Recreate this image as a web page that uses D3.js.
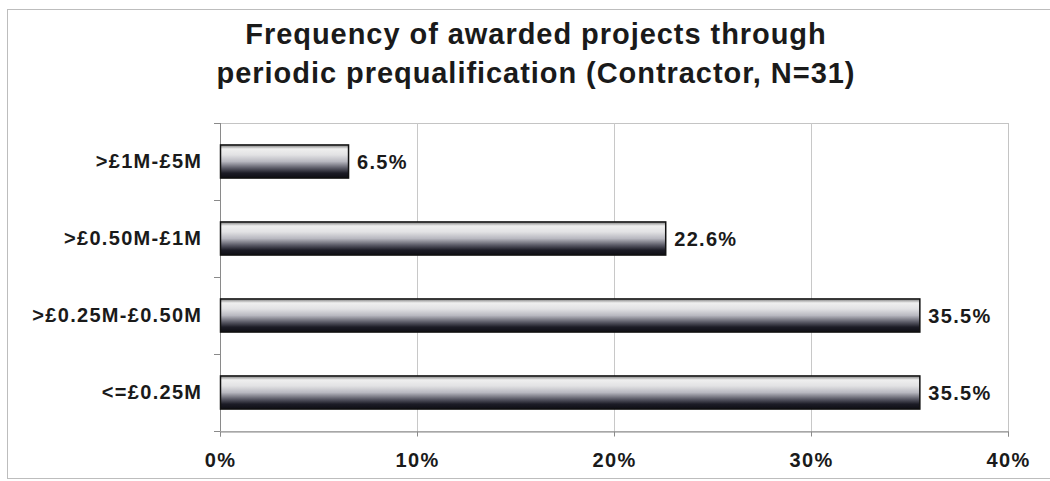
<!DOCTYPE html>
<html>
<head>
<meta charset="utf-8">
<script src="https://cdn.jsdelivr.net/npm/d3@7"></script>
<style>
  body { margin: 0; background: #fff; }
  svg text { font-family: "Liberation Sans", Arial, sans-serif; font-weight: bold; fill: #1a1a1a; }
</style>
</head>
<body>
<svg id="chart" width="1050" height="481"></svg>
<script>
// Contract value bands, top to bottom
const categories = [">£1M-£5M", ">£0.50M-£1M", ">£0.25M-£0.50M", "<=£0.25M"];
// Share of awarded projects (%)
const values = [6.5, 22.6, 35.5, 35.5];
const xTicks = [0, 10, 20, 30, 40];
const titleLines = ["Frequency of awarded projects through", "periodic prequalification (Contractor, N=31)"];

const svg = d3.select("#chart");
const W = 1050;
const plot = { left: 220, right: 1008, top: 123, bottom: 431 };
const labelSize = 20, labelSpacing = 1.3;

// outer chart frame
svg.append("rect")
  .attr("x", 7.5).attr("y", 9.5).attr("width", W).attr("height", 469)
  .attr("fill", "#fff").attr("stroke", "#bdbdbd").attr("stroke-width", 1);

// title
svg.append("g").selectAll("text").data(titleLines).join("text")
  .attr("x", 536).attr("y", (d, i) => 44 + i * 39)
  .attr("text-anchor", "middle")
  .attr("font-size", 29)
  .attr("letter-spacing", 0.95)
  .text(d => d);

const x = d3.scaleLinear().domain([0, 40]).range([plot.left, plot.right]);
const y = d3.scaleBand().domain(categories).range([plot.top, plot.bottom]).paddingInner(0.57).paddingOuter(0.285);
const yEdges = d3.scaleBand().domain(categories).range([plot.top, plot.bottom]);

// cylinder-like shading for bars
const defs = svg.append("defs");
const grad = defs.append("linearGradient").attr("id", "barShade")
  .attr("x1", 0).attr("y1", 0).attr("x2", 0).attr("y2", 1);
[[0, "#7a7a7a"], [0.12, "#efefef"], [0.3, "#e2e2e4"], [0.5, "#b8b8c0"], [0.7, "#5a5a66"], [0.85, "#1c1c26"], [1, "#0e0e14"]]
  .forEach(([o, c]) => grad.append("stop").attr("offset", o).attr("stop-color", c));

// plot area border
svg.append("rect")
  .attr("x", plot.left + 0.5).attr("y", plot.top + 0.5)
  .attr("width", plot.right - plot.left).attr("height", plot.bottom - plot.top)
  .attr("fill", "none").attr("stroke", "#c4c4c4");

// vertical gridlines
svg.append("g").selectAll("line").data(xTicks.slice(1, -1)).join("line")
  .attr("x1", d => Math.round(x(d)) + 0.5).attr("x2", d => Math.round(x(d)) + 0.5)
  .attr("y1", plot.top).attr("y2", plot.bottom)
  .attr("stroke", "#c8c8c8");

// x axis
const xAxis = svg.append("g")
  .attr("transform", `translate(0,${plot.bottom + 0.5})`)
  .call(d3.axisBottom(x).tickValues(xTicks).tickFormat(d => d + "%").tickSize(5).tickPadding(16));
xAxis.select(".domain").attr("stroke", "#8a8a8a");
xAxis.selectAll(".tick line").attr("stroke", "#8a8a8a");
xAxis.selectAll("text")
  .attr("font-size", labelSize).attr("letter-spacing", labelSpacing)
  .attr("font-family", "Liberation Sans, Arial, sans-serif").attr("fill", "#1a1a1a");

// y axis: boundary ticks
svg.append("line")
  .attr("x1", plot.left + 0.5).attr("x2", plot.left + 0.5)
  .attr("y1", plot.top).attr("y2", plot.bottom).attr("stroke", "#8a8a8a");
const edges = categories.map(c => yEdges(c)).concat([plot.bottom]);
svg.append("g").selectAll("line").data(edges).join("line")
  .attr("x1", plot.left - 6).attr("x2", plot.left)
  .attr("y1", d => Math.round(d) + 0.5).attr("y2", d => Math.round(d) + 0.5)
  .attr("stroke", "#8a8a8a");

// category labels
svg.append("g").selectAll("text").data(categories).join("text")
  .attr("x", 201 + labelSpacing)
  .attr("y", d => y(d) + y.bandwidth() / 2)
  .attr("dy", "0.3em")
  .attr("text-anchor", "end")
  .attr("font-size", labelSize)
  .attr("letter-spacing", labelSpacing)
  .text(d => d);

// bars
svg.append("g").selectAll("rect").data(values).join("rect")
  .attr("x", x(0) + 0.5)
  .attr("y", (d, i) => y(categories[i]))
  .attr("width", d => x(d) - x(0))
  .attr("height", y.bandwidth())
  .attr("fill", "url(#barShade)")
  .attr("stroke", "#111").attr("stroke-width", 1.5);

// value labels
svg.append("g").selectAll("text").data(values).join("text")
  .attr("x", d => x(d) + 9)
  .attr("y", (d, i) => y(categories[i]) + y.bandwidth() / 2)
  .attr("dy", "0.35em")
  .attr("font-size", labelSize)
  .attr("letter-spacing", labelSpacing)
  .text(d => d.toFixed(1) + "%");
</script>
</body>
</html>
